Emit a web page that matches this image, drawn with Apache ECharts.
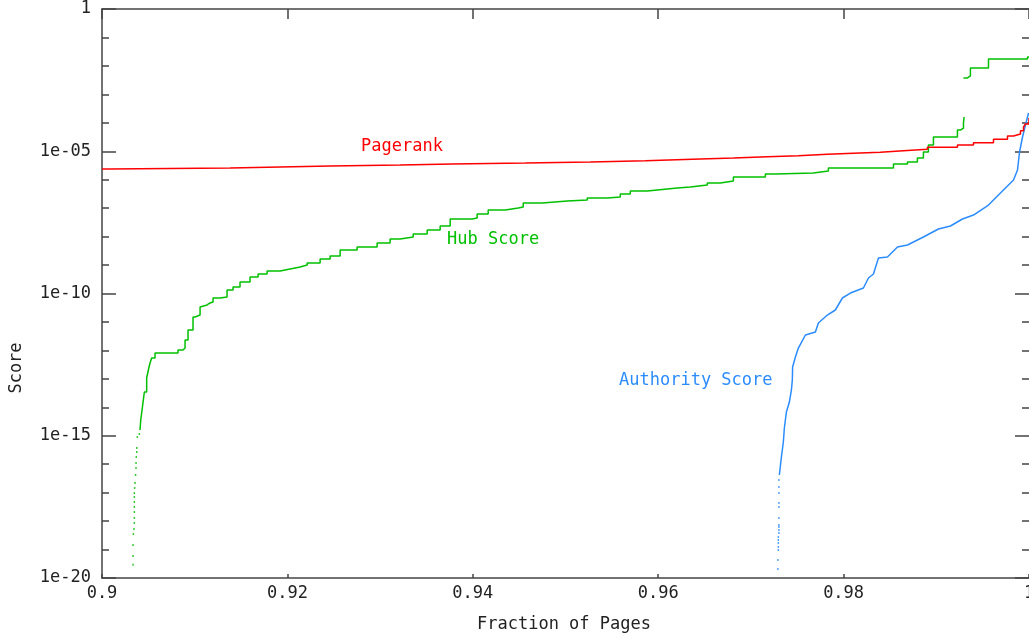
<!DOCTYPE html>
<html>
<head>
<meta charset="utf-8">
<script src="https://cdn.jsdelivr.net/npm/echarts@6/dist/echarts.min.js"></script>
<style>
html,body{margin:0;padding:0;background:#fff;overflow:hidden;}
#chart{width:1029px;height:639px;}
</style>
</head>
<body>
<div id="chart"></div>
<script>
// ---- Data (x = fraction of pages, y = score) ----
const pagerank = [
  [0.9, 2.38e-6], [0.90076, 2.58e-6], [0.91382, 3.03e-6], [0.92461, 3.29e-6], [0.93216, 3.56e-6],
  [0.93778, 3.86e-6], [0.94566, 4.19e-6], [0.95267, 4.66e-6], [0.95861, 5.21e-6], [0.96368, 5.79e-6],
  [0.96811, 6.43e-6], [0.97178, 6.98e-6], [0.97512, 7.81e-6], [0.97825, 8.47e-6], [0.98106, 9.18e-6],
  [0.98397, 1.04e-5], [0.98645, 1.17e-5], [0.98904, 1.38e-5], [0.99228, 1.66e-5], [0.99401, 2.0e-5],
  [0.99617, 2.63e-5], [0.99768, 3.44e-5], [0.99833, 4.04e-5], [0.99908, 5.27e-5], [0.99941, 7.12e-5],
  [0.99962, 9.07e-5], [1.0, 1.48e-4]
];

const hubLower = [
  [0.9041, 1.59e-15], [0.90418, 3.58e-15], [0.90432, 8.04e-15], [0.90446, 1.81e-14], [0.90457, 3.45e-14],
  [0.90482, 1.07e-13], [0.905, 2.05e-13], [0.90518, 3.61e-13], [0.90536, 5.41e-13], [0.90572, 8.11e-13],
  [0.9082, 1.03e-12], [0.90874, 1.21e-12], [0.90896, 2.32e-12], [0.90928, 5.21e-12], [0.90982, 1.49e-11],
  [0.91004, 1.75e-11], [0.91058, 3.36e-11], [0.91079, 3.95e-11], [0.91133, 4.64e-11], [0.91166, 5.03e-11],
  [0.91198, 6.95e-11], [0.91274, 7.53e-11], [0.91349, 1.33e-10], [0.91414, 1.69e-10], [0.91489, 2.54e-10],
  [0.91597, 3.8e-10], [0.91684, 4.84e-10], [0.91781, 6.18e-10], [0.91921, 7.26e-10], [0.92029, 8.53e-10],
  [0.92137, 1.0e-9], [0.92213, 1.18e-9], [0.92353, 1.63e-9], [0.92461, 2.08e-9], [0.92569, 3.38e-9],
  [0.92752, 4.31e-9], [0.92968, 5.96e-9], [0.93108, 8.24e-9], [0.93216, 9.68e-9], [0.93357, 1.23e-8],
  [0.93508, 1.71e-8], [0.93648, 2.36e-8], [0.93756, 4.16e-8], [0.93994, 4.51e-8], [0.94047, 6.22e-8],
  [0.94166, 8.61e-8], [0.9435, 1.01e-7], [0.9449, 1.1e-7], [0.94544, 1.52e-7], [0.94749, 1.78e-7],
  [0.95019, 1.93e-7], [0.95235, 2.27e-7], [0.95451, 2.47e-7], [0.95591, 3.14e-7], [0.95699, 4.01e-7],
  [0.95882, 4.35e-7], [0.9599, 5.11e-7], [0.96206, 5.54e-7], [0.96346, 6.51e-7], [0.9653, 7.66e-7],
  [0.9667, 9.0e-7], [0.96811, 1.24e-6], [0.97156, 1.59e-6], [0.97264, 1.72e-6], [0.97674, 2.02e-6],
  [0.97836, 2.58e-6], [0.98538, 3.56e-6], [0.98689, 4.19e-6], [0.98796, 5.79e-6], [0.98861, 9.42e-6],
  [0.98915, 1.66e-5], [0.98969, 3.17e-5], [0.99228, 5.58e-5], [0.99261, 6.56e-5], [0.99293, 9.84e-5],
  [0.993, 1.6e-4]
];
const hubUpper = [
  [0.99293, 3.76e-3], [0.99336, 4.42e-3], [0.99368, 8.44e-3], [0.99563, 1.75e-2], [0.99984, 2.06e-2],
  [1.0, 2.06e-2]
];
const hubDots = [
  [0.90335, 2.9e-20], [0.90335, 5.9e-20], [0.90335, 1.44e-19], [0.90338, 3.5e-19], [0.90345, 5.3e-19],
  [0.90349, 8.6e-19], [0.90349, 1.29e-18], [0.90349, 2.09e-18], [0.90349, 3.13e-18], [0.90349, 4.69e-18],
  [0.90349, 7.03e-18], [0.90349, 9.7e-18], [0.90352, 1.46e-17], [0.90356, 2.18e-17], [0.90362, 4.17e-17],
  [0.90367, 7.36e-17], [0.90367, 1.1e-16], [0.9037, 1.79e-16], [0.90375, 2.69e-16], [0.90375, 3.71e-16],
  [0.90381, 9.0e-16], [0.90403, 1.15e-15]
];

const authority = [
  [0.97307, 4.17e-17], [0.97329, 1.79e-16], [0.9735, 6.03e-16], [0.97361, 1.87e-15], [0.97383, 6.84e-15],
  [0.97415, 1.53e-14], [0.97437, 4.06e-14], [0.97447, 9.12e-14], [0.9745, 2.61e-13], [0.9748, 5.86e-13],
  [0.97512, 1.21e-12], [0.97588, 3.48e-12], [0.97696, 4.44e-12], [0.97728, 9.19e-12], [0.97825, 1.75e-11],
  [0.97911, 2.63e-11], [0.97987, 6.95e-11], [0.98073, 1.04e-10], [0.98214, 1.56e-10], [0.98268, 3.51e-10],
  [0.98322, 4.84e-10], [0.98376, 1.77e-9], [0.98473, 1.92e-9], [0.98581, 4.31e-9], [0.98689, 5.07e-9],
  [0.98861, 9.68e-9], [0.99023, 1.85e-8], [0.99153, 2.36e-8], [0.99282, 4.16e-8], [0.99401, 5.74e-8],
  [0.99563, 1.29e-7], [0.99692, 3.41e-7], [0.99833, 9.75e-7], [0.99876, 2.19e-6], [0.99898, 9.42e-6],
  [0.9993, 3.17e-5], [0.99962, 8.37e-5], [0.99995, 2.21e-4]
];
const authorityDots = [
  [0.97291, 2.07e-20], [0.97291, 4.29e-20], [0.97296, 9.64e-20], [0.97296, 1.23e-19], [0.97296, 1.7e-19],
  [0.97296, 2.17e-19], [0.97296, 2.76e-19], [0.97302, 3.82e-19], [0.97302, 4.86e-19], [0.97302, 6.21e-19],
  [0.97302, 7.3e-19], [0.97302, 1.29e-18], [0.97302, 3.13e-18], [0.97302, 4.33e-18], [0.97302, 9.7e-18],
  [0.97302, 1.58e-17], [0.97302, 2.79e-17]
];

const xTickValues = [0.9, 0.92, 0.94, 0.96, 0.98, 1];
const yTickLabels = ['1e-20', '1e-15', '1e-10', '1e-05', '1'];
const seriesNames = ['Pagerank', 'Hub Score', 'Authority Score'];

// ---- Styles ----
const RED = '#ff0000', GREEN = '#00c000', BLUE = '#2b8cff';
const AXIS = '#444';
const FONT = '"DejaVu Sans Mono", monospace';
const FS = 17;

const chart = echarts.init(document.getElementById('chart'), null, { renderer: 'canvas' });

function yLabel(v) {
  const e = Math.round(Math.log10(v));
  if (e === 0) return '1';
  const s = '1e-' + String(-e).padStart(2, '0');
  return yTickLabels.includes(s) ? s : '';
}
function xLabel(v) {
  const s = String(+(+v).toFixed(2));
  return xTickValues.some(t => Math.abs(t - v) < 1e-9) ? s : '';
}

const xCommon = { type: 'value', min: 0.9, max: 1, interval: 0.02, splitLine: { show: false } };
const tickStyle = { color: AXIS, width: 1.5 };

function yAxisDef(position, interval, tickLen, withLabels, withLine) {
  return {
    type: 'log', logBase: 10, min: 1e-20, max: 1, interval: interval,
    position: position, offset: 0,
    splitLine: { show: false },
    axisLine: { show: withLine, lineStyle: { color: AXIS, width: 1.5 } },
    axisTick: { show: true, inside: true, length: tickLen, lineStyle: tickStyle },
    minorTick: { show: false },
    axisLabel: withLabels
      ? { show: true, margin: 11, color: '#222', fontFamily: FONT, fontSize: FS, formatter: yLabel }
      : { show: false }
  };
}

chart.setOption({
  animation: false,
  backgroundColor: '#fff',
  grid: { left: 102, right: 0, top: 9, bottom: 61, containLabel: false, outerBoundsMode: 'none' },
  xAxis: [
    Object.assign({}, xCommon, {
      position: 'bottom',
      axisLine: { show: true, lineStyle: { color: AXIS, width: 1.5 } },
      axisTick: { show: true, inside: true, length: 4, lineStyle: tickStyle },
      axisLabel: {
        show: true, margin: 7, color: '#222', fontFamily: FONT, fontSize: FS,
        formatter: xLabel, showMinLabel: true, showMaxLabel: true
      }
    }),
    Object.assign({}, xCommon, {
      position: 'top',
      axisLine: { show: true, lineStyle: { color: AXIS, width: 1.5 } },
      axisTick: { show: true, inside: true, length: 10, lineStyle: tickStyle },
      axisLabel: { show: false }
    })
  ],
  yAxis: [
    yAxisDef('left', 5, 14, true, true),
    yAxisDef('left', 1, 7, false, false),
    yAxisDef('right', 5, 14, false, false),
    yAxisDef('right', 1, 7, false, false)
  ],
  series: [
    { name: seriesNames[0], type: 'line', step: 'end', data: pagerank, showSymbol: false, symbol: 'none',
      lineStyle: { color: RED, width: 1.5 }, itemStyle: { color: RED }, z: 3 },
    { name: seriesNames[1], type: 'line', step: 'end', data: hubLower, showSymbol: false, symbol: 'none',
      lineStyle: { color: GREEN, width: 1.5 }, itemStyle: { color: GREEN }, z: 2 },
    { name: seriesNames[1], type: 'line', step: 'end', data: hubUpper, showSymbol: false, symbol: 'none',
      lineStyle: { color: GREEN, width: 1.5 }, itemStyle: { color: GREEN }, z: 2 },
    { name: seriesNames[1], type: 'scatter', data: hubDots, symbol: 'rect', symbolSize: [1.5, 2],
      itemStyle: { color: GREEN }, z: 2 },
    { name: seriesNames[2], type: 'line', data: authority, showSymbol: false, symbol: 'none',
      lineStyle: { color: BLUE, width: 1.5 }, itemStyle: { color: BLUE }, z: 2 },
    { name: seriesNames[2], type: 'scatter', data: authorityDots, symbol: 'rect', symbolSize: [1.5, 2],
      itemStyle: { color: BLUE }, z: 2 }
  ],
  graphic: [
    { type: 'text', left: 361, top: 138, style: { text: seriesNames[0], fill: RED, font: FS + 'px ' + FONT } },
    { type: 'text', left: 447, top: 231, style: { text: seriesNames[1], fill: GREEN, font: FS + 'px ' + FONT } },
    { type: 'text', left: 619, top: 372, style: { text: seriesNames[2], fill: BLUE, font: FS + 'px ' + FONT } },
    { type: 'text', x: 564, y: 625, style: { text: 'Fraction of Pages', fill: '#222', font: FS + 'px ' + FONT,
      align: 'center', verticalAlign: 'middle' } },
    { type: 'text', x: 17, y: 368, rotation: Math.PI / 2, style: { text: 'Score', fill: '#222', font: FS + 'px ' + FONT,
      align: 'center', verticalAlign: 'middle' } }
  ]
});
</script>
</body>
</html>
